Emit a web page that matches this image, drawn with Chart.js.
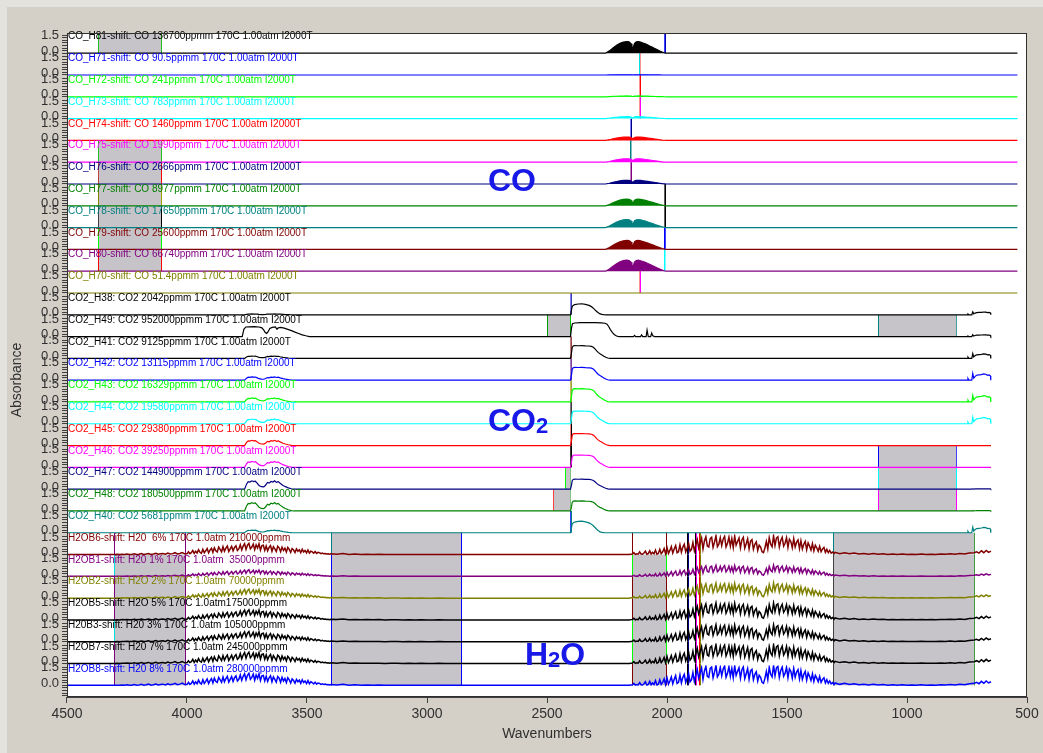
<!DOCTYPE html>
<html>
<head>
<meta charset="utf-8">
<title>Stacked reference spectra: CO, CO2, H2O</title>
<script src="https://cdn.jsdelivr.net/npm/chart.js@4.4.1/dist/chart.umd.min.js"></script>
<style>
  html, body { margin: 0; padding: 0; background: #d4d0c8; }
  #wrap { width: 1043px; height: 753px; position: relative; }
</style>
</head>
<body>
<div id="wrap"><canvas id="chart"></canvas></div>
<script>
// Stacked absorbance spectra, one strip per reference file.
// Each strip gets its own y axis; Chart.js stacks them with `stack` + `stackWeight`.

// ---- axis ticks ----
const xTickValues = [4500, 4000, 3500, 3000, 2500, 2000, 1500, 1000, 500];
const yTickValues = [0, 1.5];
const yTickLabels = ['0.0', '1.5'];

// ---- strips (top to bottom) ----
const stripLabels = [
  'CO_H81-shift: CO 136700ppmm 170C 1.00atm I2000T',
  'CO_H71-shift: CO 90.5ppmm 170C 1.00atm I2000T',
  'CO_H72-shift: CO 241ppmm 170C 1.00atm I2000T',
  'CO_H73-shift: CO 783ppmm 170C 1.00atm I2000T',
  'CO_H74-shift: CO 1460ppmm 170C 1.00atm I2000T',
  'CO_H75-shift: CO 1990ppmm 170C 1.00atm I2000T',
  'CO_H76-shift: CO 2666ppmm 170C 1.00atm I2000T',
  'CO_H77-shift: CO 8977ppmm 170C 1.00atm I2000T',
  'CO_H78-shift: CO 17650ppmm 170C 1.00atm I2000T',
  'CO_H79-shift: CO 25600ppmm 170C 1.00atm I2000T',
  'CO_H80-shift: CO 66740ppmm 170C 1.00atm I2000T',
  'CO_H70-shift: CO 51.4ppmm 170C 1.00atm I2000T',
  'CO2_H38: CO2 2042ppmm 170C 1.00atm I2000T',
  'CO2_H49: CO2 952000ppmm 170C 1.00atm I2000T',
  'CO2_H41: CO2 9125ppmm 170C 1.00atm I2000T',
  'CO2_H42: CO2 13115ppmm 170C 1.00atm I2000T',
  'CO2_H43: CO2 16329ppmm 170C 1.00atm I2000T',
  'CO2_H44: CO2 19580ppmm 170C 1.00atm I2000T',
  'CO2_H45: CO2 29380ppmm 170C 1.00atm I2000T',
  'CO2_H46: CO2 39250ppmm 170C 1.00atm I2000T',
  'CO2_H47: CO2 144900ppmm 170C 1.00atm I2000T',
  'CO2_H48: CO2 180500ppmm 170C 1.00atm I2000T',
  'CO2_H40: CO2 5681ppmm 170C 1.00atm I2000T',
  'H2OB6-shift: H20  6% 170C 1.0atm 210000ppmm',
  'H2OB1-shift: H20 1% 170C 1.0atm  35000ppmm',
  'H2OB2-shift: H2O 2% 170C 1.0atm 70000ppmm',
  'H2OB5-shift: H2O 5% 170C 1.0atm175000ppmm',
  'H20B3-shift: H20 3% 170C 1.0atm 105000ppmm',
  'H2OB7-shift: H20 7% 170C 1.0atm 245000ppmm',
  'H2OB8-shift: H20 8% 170C 1.0atm 280000ppmm'
];

const stripColors = [
  '#000000', '#0000ff', '#00ff00', '#00ffff', '#ff0000', '#ff00ff',
  '#000080', '#008000', '#008080', '#800000', '#800080', '#808000',
  '#000000', '#000000', '#000000', '#0000ff', '#00ff00', '#00ffff',
  '#ff0000', '#ff00ff', '#000080', '#008000', '#008080',
  '#800000', '#800080', '#808000', '#000000', '#000000', '#000000', '#0000ff'
];

// ---- CO band (P/R branches around 2143 cm-1), normalised shape ----
const coWn = [2256, 2240, 2225, 2210, 2196, 2182, 2168, 2158, 2150, 2146, 2143, 2140, 2135, 2128,
  2119, 2110, 2100, 2090, 2080, 2070, 2060, 2050, 2040, 2030, 2020, 2011, 2004];
const coShape = [0, 0.2, 0.45, 0.68, 0.85, 0.95, 1.0, 0.97, 0.82, 0.55, 0.4, 0.55, 0.85, 0.97,
  1.0, 0.95, 0.88, 0.8, 0.7, 0.6, 0.5, 0.39, 0.29, 0.19, 0.1, 0.04, 0];
// peak height per CO strip (absorbance)
const coAmp = [1.13, 0.02, 0.08, 0.19, 0.33, 0.33, 0.36, 0.65, 0.78, 0.87, 1.07, 0];

// ---- CO2 asymmetric stretch band ----
const co2Wn = [2402, 2398, 2395, 2391, 2385, 2370, 2355, 2340, 2325, 2315, 2307, 2300, 2293,
  2286, 2279, 2271, 2263, 2255, 2247, 2238];
const co2Plateau = [0, 0.4, 0.85, 0.97, 1.0, 0.99, 1.0, 0.98, 0.97, 0.94, 0.87, 0.74, 0.58,
  0.45, 0.36, 0.27, 0.17, 0.09, 0.03, 0];
const co2Peak = [0, 0.45, 0.75, 0.85, 0.92, 0.98, 1.0, 0.94, 0.85, 0.74, 0.6, 0.45, 0.3,
  0.18, 0.08, 0.03, 0.01, 0, 0, 0];
const co2BandKind = ['peak', 'wide', 'plateau', 'plateau', 'plateau', 'plateau', 'plateau',
  'plateau', 'plateau', 'plateau', 'peak'];
const co2BandAmp = [1.07, 1.36, 1.24, 1.24, 1.29, 1.24, 1.17, 1.2, 0.97, 0.97, 1.13];

// saturated 952000 ppm band (H49)
const h49BandWn = [2402, 2398, 2394, 2385, 2360, 2330, 2300, 2275, 2258, 2250, 2243, 2236,
  2228, 2220, 2212, 2205, 2198];
const h49Band = [0, 0.6, 0.92, 0.97, 1.0, 0.99, 1.0, 0.98, 0.95, 0.88, 0.72, 0.5, 0.3, 0.15,
  0.06, 0.02, 0];
const h49ExtraWn = [2140, 2135, 2131, 2110, 2106, 2101, 2087, 2083, 2078, 2068, 2064, 2059, 2052];
const h49Extra = [0, 0.12, 0, 0, 0.17, 0, 0, 0.62, 0, 0, 0.35, 0.08, 0];
const h49CombWn = [3770, 3763, 3755, 3740, 3720, 3700, 3688, 3680, 3674, 3668, 3662, 3655, 3645,
  3632, 3625, 3620, 3610, 3595, 3580, 3565, 3550, 3535, 3520, 3505, 3490];
const h49Comb = [0, 0.7, 0.93, 0.95, 0.97, 0.93, 0.85, 0.62, 0.39, 0.31, 0.47, 0.78, 0.89, 0.93,
  0.7, 0.85, 0.89, 0.82, 0.7, 0.58, 0.43, 0.3, 0.17, 0.08, 0];

// CO2 combination bands near 3700/3600 cm-1
const combWn = [3760, 3752, 3745, 3738, 3730, 3722, 3715, 3707, 3700, 3690, 3680, 3672, 3665,
  3658, 3650, 3642, 3635, 3628, 3620, 3612, 3600, 3590, 3578, 3565, 3555];
const combShape = [0, 0.6, 0.9, 0.85, 1.0, 0.9, 0.95, 0.7, 0.45, 0.3, 0.28, 0.5, 0.8, 0.72,
  0.92, 0.85, 1.0, 0.82, 0.9, 0.7, 0.45, 0.3, 0.15, 0.05, 0];
const co2CombAmp = [0.08, 0, 0.23, 0.32, 0.39, 0.46, 0.51, 0.58, 0.81, 0.81, 0.26];

// CO2 bending band at the low end (667 cm-1)
const bendWn = [750, 746, 742, 730, 726, 722, 716, 710, 700, 690, 680, 672, 664, 658, 652, 651];
const bendShape = [0, 0.25, 0, 0, 0.95, 0.3, 0.55, 0.7, 0.75, 0.8, 0.9, 0.85, 0.7, 0.75, 0.6, 0];
const co2BendAmp = [0.3, 0.19, 0.49, 0.68, 0.68, 0.68, 0, 0, 0.04, 0.04, 0.58];

// ---- H2O, sampled evenly inside each segment (start, step, values) ----
const h2oLow = [0, 0.01, 0, 0.02, 0.01, 0.03, 0.01, 0.01, 0.04, 0.01, 0.02, 0.05, 0.01, 0.03,
  0.06, 0.01, 0.03, 0.07, 0.02, 0.04, 0.06, 0.02, 0.08, 0.03, 0.05, 0.1, 0.03, 0.06, 0.11, 0.04];
// 4000 -> 3406, every 6 cm-1
const h2oStretch = [
  0.04, 0.15, 0.05, 0.10, 0.22, 0.06, 0.18, 0.08, 0.26, 0.12, 0.07, 0.28, 0.10, 0.20, 0.32, 0.09,
  0.24, 0.34,
  0.12, 0.36, 0.20, 0.14, 0.40, 0.28, 0.15, 0.42, 0.18, 0.34, 0.45, 0.16, 0.30, 0.44, 0.20, 0.38,
  0.47, 0.22, 0.30,
  0.52, 0.25, 0.45, 0.58, 0.28, 0.50, 0.60, 0.30, 0.40, 0.56, 0.26, 0.52, 0.35, 0.58, 0.24, 0.48,
  0.50, 0.22,
  0.46, 0.20, 0.38, 0.48, 0.18, 0.42, 0.30, 0.16, 0.44, 0.36, 0.15, 0.40, 0.22, 0.34, 0.14, 0.38,
  0.28, 0.12, 0.32, 0.24, 0.11, 0.30, 0.18, 0.26, 0.10, 0.28, 0.14, 0.22, 0.09, 0.24, 0.08, 0.18,
  0.14, 0.07, 0.16, 0.06, 0.12, 0.10, 0.05, 0.08, 0.04, 0.06, 0.03, 0.04, 0.02
];
const h2oGray1 = [0.04, 0.02, 0.05, 0.01, 0.03, 0.01, 0.02, 0.01, 0.02, 0, 0.01, 0.01, 0, 0.01,
  0, 0.01, 0, 0, 0.01, 0, 0, 0, 0];
// 2150 -> 1304, every 6 cm-1
const h2oBend = [
  0.02, 0.03, 0.10, 0.01, 0.04, 0.02, 0.14, 0.03, 0.02, 0.08, 0.18, 0.02, 0.05, 0.20, 0.03, 0.12,
  0.04, 0.24, 0.02, 0.06, 0.28, 0.05, 0.15, 0.32, 0.04,
  0.38, 0.06, 0.22, 0.42, 0.08, 0.30, 0.48, 0.10, 0.15, 0.52, 0.12, 0.40, 0.55, 0.14, 0.35, 0.60,
  0.18, 0.28, 0.64, 0.20, 0.50,
  0.80, 0.35, 0.62, 0.88, 0.30, 0.72, 0.95, 0.45, 0.40, 0.85, 0.92, 0.38, 0.66, 1.00, 0.42, 0.55,
  0.90, 0.48, 0.82, 0.97, 0.40, 0.60, 0.93, 0.45, 0.85, 0.38, 0.98, 0.50, 0.70, 0.88, 0.36, 0.78,
  0.92, 0.34, 0.58, 0.84, 0.30, 0.72, 0.80, 0.28, 0.55, 0.68, 0.22, 0.50, 0.40, 0.15,
  0.10, 0.35, 0.70, 0.30, 0.90, 0.55, 0.42, 1.00, 0.48, 0.88, 0.95, 0.40, 0.75, 0.92, 0.45, 0.60,
  0.90, 0.38, 0.82, 0.70, 0.36, 0.85, 0.40, 0.66, 0.78, 0.32,
  0.74, 0.30, 0.55, 0.70, 0.26, 0.62, 0.45, 0.24, 0.58, 0.20, 0.50, 0.36, 0.18, 0.44, 0.15, 0.30,
  0.38, 0.12, 0.28, 0.10, 0.22, 0.08, 0.14, 0.04
];
const h2oGray2 = [0.12, 0.05, 0.10, 0.04, 0.08, 0.03, 0.06, 0.02, 0.05, 0.02, 0.04, 0.01, 0.03,
  0.01, 0.03, 0.01, 0.02, 0.01, 0.03, 0.01, 0.02, 0.01, 0.03, 0.02, 0.04, 0.02, 0.05, 0.03, 0.08, 0.10];
const h2oEnd = [0.15, 0.08, 0.20, 0.10, 0.22, 0.12, 0.18];
const h2oAmp = [1.82, 1.07, 1.46, 1.65, 1.65, 1.85, 1.94];

// ---- marked regions: [strip, from wn, to wn, shaded, left edge colour, right edge colour] ----
const regions = [
  [0, 4370, 4105, true, '#20c020', '#20c020'],
  [0, 2014, 2006, false, '#4040ff', '#0000c0'],
  [1, 2116, 2108, false, '#00e0e0', '#ff9090'],
  [2, 2116, 2108, false, '#ff9090', '#ff0000'],
  [3, 2116, 2108, false, '#ff9090', '#ff00ff'],
  [4, 2156, 2148, false, '#8080ff', '#000080'],
  [5, 2156, 2148, false, '#008080', '#80c0c0'],
  [5, 4370, 4105, true, '#20c020', '#20c020'],
  [6, 2156, 2148, false, '#c080c0', '#800080'],
  [6, 4370, 4105, true, '#c04040', '#ff0000'],
  [7, 2014, 2006, false, '#606060', '#000000'],
  [7, 4370, 4105, true, '#808000', '#a0a000'],
  [8, 2014, 2006, false, '#606060', '#000000'],
  [8, 4370, 4105, true, '#404040', '#000000'],
  [9, 2014, 2006, false, '#0000ff', '#4040ff'],
  [9, 4370, 4105, true, '#00ff00', '#00ff00'],
  [10, 2014, 2006, false, '#00ffff', '#80ffff'],
  [10, 4370, 4105, true, '#ff0000', '#ff0000'],
  [11, 2116, 2108, false, '#ff9090', '#ff00ff'],
  [12, 2403, 2395, false, '#8080ff', '#4040a0'],
  [13, 2500, 2400, true, '#00a000', '#00c000'],
  [13, 1121, 793, true, '#008080', '#40a0a0'],
  [14, 2403, 2395, false, '#c08080', '#a04040'],
  [15, 2403, 2395, false, '#a080c0', '#8040a0'],
  [16, 2403, 2395, false, '#c0c060', '#a0a040'],
  [17, 2403, 2395, false, '#808080', '#404040'],
  [18, 2403, 2395, false, '#ff8080', '#000000'],
  [19, 2403, 2395, false, '#404040', '#000000'],
  [19, 1121, 793, true, '#0000ff', '#4040ff'],
  [20, 2425, 2400, true, '#00ff00', '#80c080'],
  [20, 1121, 793, true, '#00ffff', '#00ffff'],
  [21, 2475, 2400, true, '#ff4040', '#80c080'],
  [21, 1121, 793, true, '#ff00ff', '#ff00ff'],
  [22, 2403, 2395, false, '#4040ff', '#008080']
];
const h2oEdgeA = ['#800080', '#00e0e0', '#800080', '#800080', '#00e0e0', '#800080', '#800080'];
const h2oEdgeB = ['#800000', '#00ff00', '#800000', '#800000', '#00ff00', '#00ff00', '#800000'];
for (let k = 0; k < 7; k++) {
  const s = 23 + k;
  regions.push(
    [s, 4304, 4004, k !== 0, h2oEdgeA[k], '#800080'],
    [s, 3400, 2854, true, k === 0 ? '#008080' : '#0000ff', '#0000ff'],
    [s, 2146, 2000, k !== 0, h2oEdgeB[k], h2oEdgeB[k]],
    [s, 1916, 1907, false, '#000000', '#000080'],
    [s, 1885, 1878, false, '#000000', '#ff00ff'],
    [s, 1867, 1859, false, '#ff0000', '#808000'],
    [s, 1308, 717, true, k === 0 ? '#008080' : '#404040', '#40a040']
  );
}

// big gas labels: [parts, left wn, strip, level]
const gasLabels = [
  [[['CO', false]], 2746, 7, 1.45],
  [[['CO', false], ['2', true]], 2746, 18, 1.43],
  [[['H', false], ['2', true], ['O', false]], 2592, 29, 2.0]
];

// ---- build datasets ----
function curve(wn, vals, amp) {
  return wn.map((w, j) => ({ x: w, y: vals[j] * amp }));
}
function segment(start, step, vals, amp) {
  return vals.map((v, j) => ({ x: start - step * j, y: v * amp }));
}

const datasets = stripLabels.map((label, i) => {
  let pts = [{ x: 4500, y: 0 }];
  if (i < 12) {
    if (coAmp[i] > 0) pts = pts.concat(curve(coWn, coShape, coAmp[i]));
    pts.push({ x: 540, y: 0 });
  } else if (i < 23) {
    const c = i - 12;
    if (co2BandKind[c] === 'wide') {
      pts = pts.concat(curve(h49CombWn, h49Comb, 1));
      pts = pts.concat(curve(h49BandWn, h49Band, co2BandAmp[c]));
      pts = pts.concat(curve(h49ExtraWn, h49Extra, 1));
    } else {
      if (co2CombAmp[c] > 0) pts = pts.concat(curve(combWn, combShape, co2CombAmp[c]));
      const shape = co2BandKind[c] === 'peak' ? co2Peak : co2Plateau;
      pts = pts.concat(curve(co2Wn, shape, co2BandAmp[c]));
    }
    if (co2BendAmp[c] > 0) pts = pts.concat(curve(bendWn, bendShape, co2BendAmp[c]));
    else pts.push({ x: 650, y: 0 });
  } else {
    const a = h2oAmp[i - 23];
    pts.push({ x: 4310, y: 0 });
    pts = pts.concat(segment(4300, 10, h2oLow, a));
    pts = pts.concat(segment(4000, 6, h2oStretch, a));
    pts = pts.concat(segment(3400, 25, h2oGray1, a));
    pts.push({ x: 2850, y: 0 }, { x: 2158, y: 0 });
    pts = pts.concat(segment(2150, 6, h2oBend, a));
    pts = pts.concat(segment(1300, 20, h2oGray2, a));
    pts = pts.concat(segment(710, 10, h2oEnd, a));
  }
  const isCO = i < 12;
  const isH2O = i >= 23;
  return {
    label: label,
    data: pts,
    xAxisID: 'x',
    yAxisID: 'y' + i,
    borderColor: stripColors[i],
    backgroundColor: stripColors[i],
    borderWidth: isH2O ? 1.5 : 1.2,
    pointRadius: 0,
    tension: 0,
    // the CO rotational lines are so dense that the band reads as a solid shape
    fill: isCO ? 'origin' : false
  };
});

// ---- scales ----
const FONT = '"Liberation Sans", Arial, sans-serif';
const AXIS_COLOR = '#404040';
const TEXT_COLOR = '#303030';

const scales = {
  x: {
    type: 'linear',
    position: 'bottom',
    reverse: true,
    min: 500,
    max: 4500,
    afterBuildTicks: (s) => { s.ticks = xTickValues.map((v) => ({ value: v })); },
    afterFit: (s) => { s.height = 56; },
    ticks: {
      autoSkip: false, maxRotation: 0, padding: 3, color: TEXT_COLOR,
      font: { family: FONT, size: 14 },
      callback: (v) => String(v)
    },
    grid: { drawOnChartArea: false, drawTicks: true, tickLength: 6, tickColor: AXIS_COLOR },
    border: { display: true, color: AXIS_COLOR },
    title: { display: true, text: 'Wavenumbers', color: TEXT_COLOR, font: { family: FONT, size: 14 }, padding: { top: 4, bottom: 10 } }
  }
};

// stacked left axes are laid out bottom-up, so register the last strip first
for (let i = stripLabels.length - 1; i >= 0; i--) {
  const last = i === stripLabels.length - 1;
  const min = last ? -1.13 : -0.155;
  const max = 1.96;
  scales['y' + i] = {
    type: 'linear',
    position: 'left',
    stack: 'strips',
    stackWeight: max - min,
    min: min,
    max: max,
    offset: false,
    afterFit: (s) => { s.width = 28; },
    ticks: {
      stepSize: 0.25,
      autoSkip: false,
      includeBounds: false,
      padding: 3,
      labelOffset: -2,
      color: TEXT_COLOR,
      font: { family: FONT, size: 13 },
      callback: (v) => {
        const k = yTickValues.findIndex((t) => Math.abs(t - v) < 1e-6);
        return k >= 0 ? yTickLabels[k] : '';
      }
    },
    grid: { drawOnChartArea: false, drawTicks: true, tickLength: 5, tickColor: AXIS_COLOR },
    border: { display: true, color: AXIS_COLOR }
  };
}

// ---- decorations: panel background, marked regions, strip captions ----
const decor = {
  id: 'decor',
  beforeDraw(chart) {
    const { ctx, chartArea: a } = chart;
    ctx.save();
    ctx.fillStyle = '#e4e2dd';
    ctx.fillRect(0, 0, chart.width, chart.height);
    ctx.fillStyle = '#d4d0c8';
    ctx.fillRect(7, 7, chart.width - 7, chart.height - 7);
    ctx.fillStyle = '#ffffff';
    ctx.fillRect(a.left, a.top, a.right - a.left, a.bottom - a.top);
    ctx.restore();
  },
  beforeDatasetsDraw(chart) {
    const { ctx } = chart;
    const xs = chart.scales.x;
    ctx.save();
    ctx.lineWidth = 1;
    regions.forEach(([strip, from, to, shaded, cL, cR]) => {
      const ys = chart.scales['y' + strip];
      const top = strip === 0 ? ys.top : chart.scales['y' + (strip - 1)].getPixelForValue(0);
      const bot = ys.getPixelForValue(0);
      const x1 = xs.getPixelForValue(from);
      const x2 = xs.getPixelForValue(to);
      if (shaded) {
        ctx.fillStyle = '#c6c3c9';
        ctx.fillRect(x1, top, x2 - x1, bot - top);
      }
      const l = Math.round(x1) + 0.5;
      const r = Math.max(Math.round(x2) - 0.5, l + 1);
      ctx.strokeStyle = cL;
      ctx.beginPath(); ctx.moveTo(l, top); ctx.lineTo(l, bot); ctx.stroke();
      ctx.strokeStyle = cR;
      ctx.beginPath(); ctx.moveTo(r, top); ctx.lineTo(r, bot); ctx.stroke();
    });
    ctx.restore();
  },
  afterDatasetsDraw(chart) {
    const { ctx, chartArea: a } = chart;
    const xs = chart.scales.x;
    ctx.save();

    // strip captions
    ctx.font = '10px ' + FONT;
    ctx.textAlign = 'left';
    ctx.textBaseline = 'middle';
    stripLabels.forEach((t, i) => {
      const ys = chart.scales['y' + i];
      ctx.fillStyle = stripColors[i];
      ctx.fillText(t, a.left + 1, ys.getPixelForValue(1.6));
    });

    // big gas labels
    ctx.fillStyle = '#1818e8';
    ctx.textBaseline = 'alphabetic';
    gasLabels.forEach(([parts, wn, strip, level]) => {
      let x = xs.getPixelForValue(wn);
      const y = chart.scales['y' + strip].getPixelForValue(level);
      parts.forEach(([txt, sub]) => {
        ctx.font = 'bold ' + (sub ? 22 : 32) + 'px ' + FONT;
        ctx.fillText(txt, x, sub ? y + 2 : y);
        x += ctx.measureText(txt).width;
      });
    });

    // plot frame
    ctx.strokeStyle = '#303030';
    ctx.lineWidth = 1;
    ctx.strokeRect(Math.round(a.left) + 0.5, Math.round(a.top) + 0.5,
      Math.round(a.right - a.left) - 1, Math.round(a.bottom - a.top) - 1);

    // y title
    ctx.translate(17, (a.top + a.bottom) / 2 + 15);
    ctx.rotate(-Math.PI / 2);
    ctx.fillStyle = TEXT_COLOR;
    ctx.font = '14px ' + FONT;
    ctx.textAlign = 'center';
    ctx.textBaseline = 'middle';
    ctx.fillText('Absorbance', 0, 0);
    ctx.restore();
  }
};

new Chart(document.getElementById('chart'), {
  type: 'line',
  data: { datasets: datasets },
  options: {
    responsive: true,
    maintainAspectRatio: false,
    animation: false,
    events: [],
    layout: { padding: { left: 39, top: 33, right: 16, bottom: 0 } },
    plugins: { legend: { display: false }, tooltip: { enabled: false } },
    scales: scales
  },
  plugins: [decor]
});
</script>
</body>
</html>
